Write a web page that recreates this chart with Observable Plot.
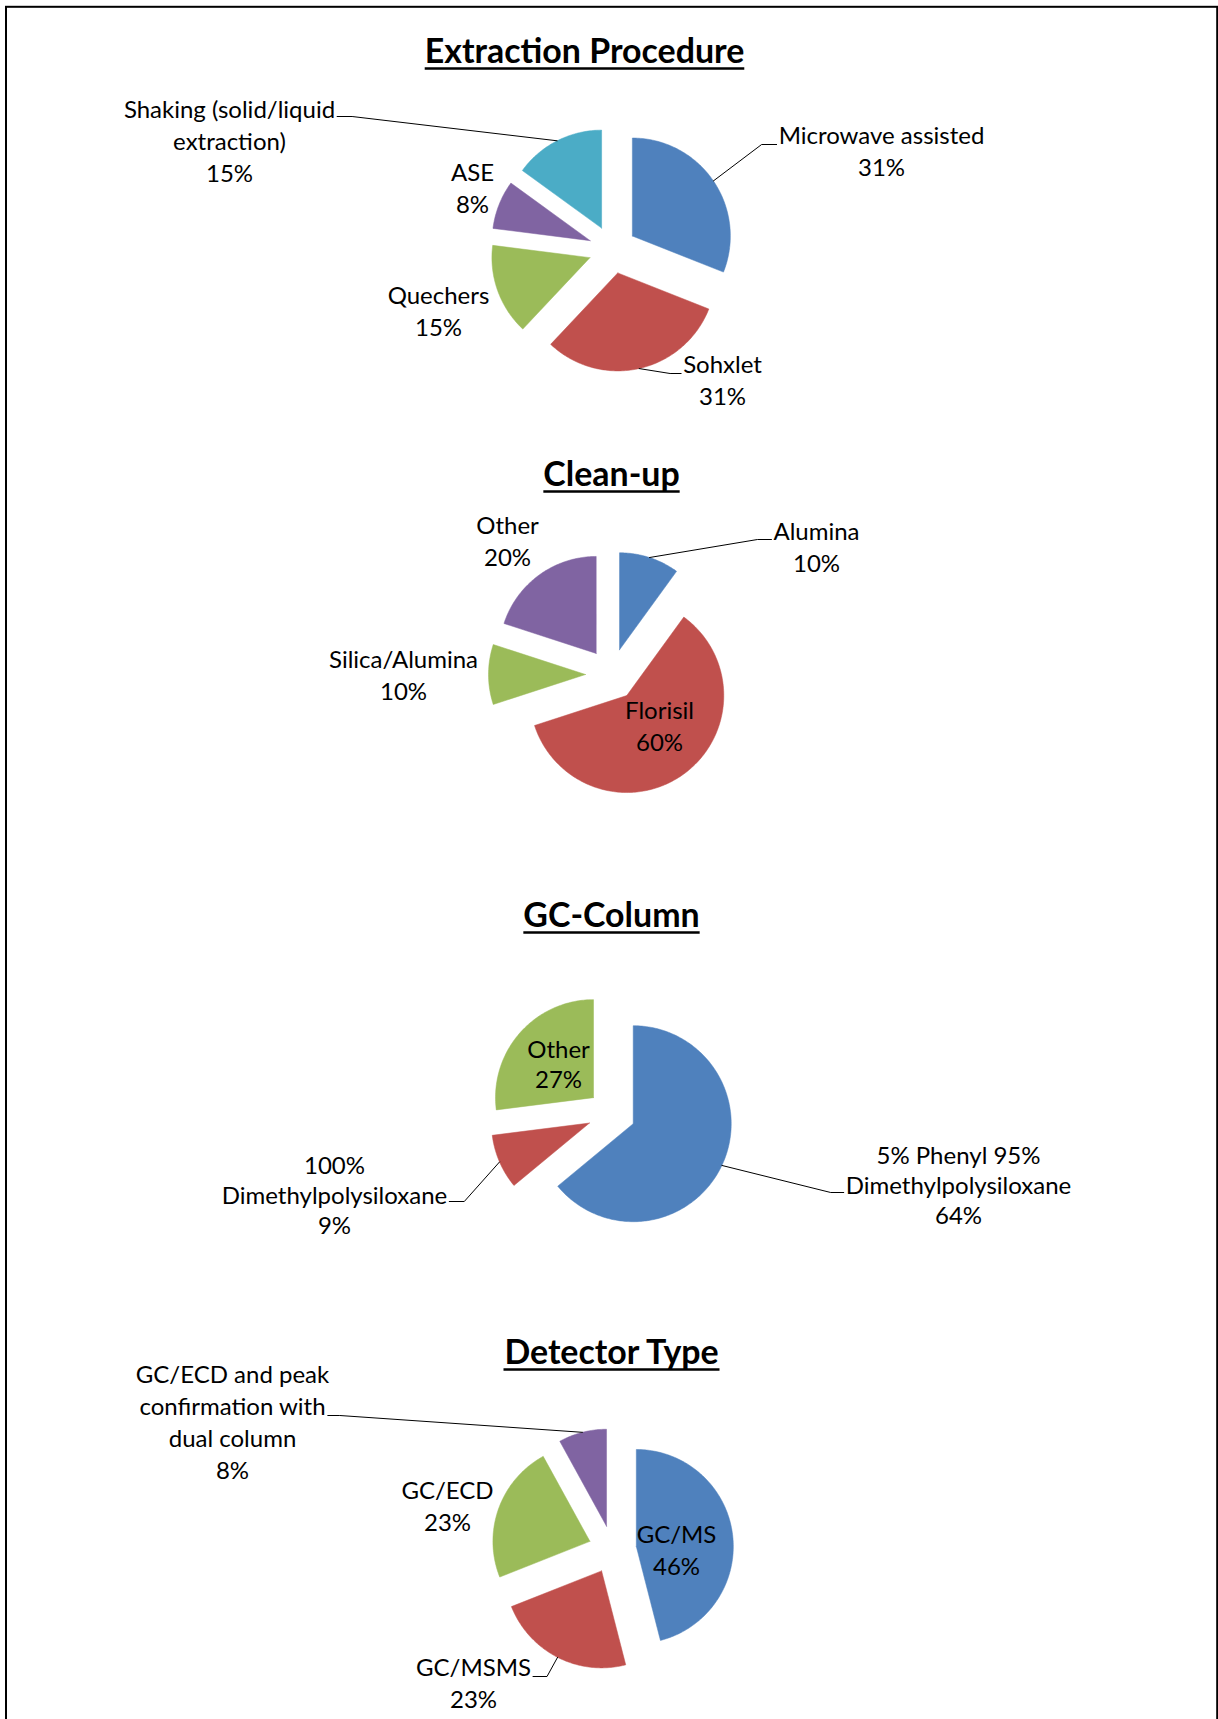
<!DOCTYPE html>
<html>
<head>
<meta charset="utf-8">
<script src="https://cdn.jsdelivr.net/npm/d3@7"></script>
<script src="https://cdn.jsdelivr.net/npm/@observablehq/plot@0.6"></script>
<style>
  html, body { margin: 0; padding: 0; background: #fff; }
  #chart { width: 1218px; height: 1719px; overflow: hidden; }
</style>
</head>
<body>
<div id="chart"></div>
<script>
// ---------------- data ----------------
const extractionTitle = "Extraction Procedure";
const extractionLabels = ["Microwave assisted", "Sohxlet", "Quechers", "ASE", "Shaking (solid/liquid\nextraction)"];
const extractionValues = [31, 31, 15, 8, 15];

const cleanupTitle = "Clean-up";
const cleanupLabels = ["Alumina", "Florisil", "Silica/Alumina", "Other"];
const cleanupValues = [10, 60, 10, 20];

const columnTitle = "GC-Column";
const columnLabels = ["5% Phenyl 95%\nDimethylpolysiloxane", "100%\nDimethylpolysiloxane", "Other"];
const columnValues = [64, 9, 27];

const detectorTitle = "Detector Type";
const detectorLabels = ["GC/MS", "GC/MSMS", "GC/ECD", "GC/ECD and peak\nconfirmation with\ndual column"];
const detectorValues = [46, 23, 23, 8];

// ---------------- styles / layout ----------------
const palette = ["#4F81BD", "#C0504D", "#9BBB59", "#8064A2", "#4BACC6"];
const FONT = "Lato, 'Open Sans', 'Liberation Sans', sans-serif";

const pies = [
  { title: extractionTitle, labels: extractionLabels, values: extractionValues,
    center: [612, 249], r: 98, explode: 24, titleAt: [584, 62], lineGap: 32,
    labelAt: [[269, -106], [110, 123], [-174, 54], [-140, -69], [-383, -132]],
    leaders: [{i: 0, line: 0, elbow: [146, -105], tail: 15}, {i: 1, line: 0, elbow: [56, 124], tail: 11}, {i: 4, line: 0, elbow: [-255, -133], tail: -15}] },
  { title: cleanupTitle, labels: cleanupLabels, values: cleanupValues,
    center: [611, 674], r: 97, explode: 26, titleAt: [611, 485], lineGap: 32,
    labelAt: [[205, -135], [48, 44], [-208, -7], [-104, -141]],
    leaders: [{i: 0, line: 0, elbow: [147, -135], tail: 14}] },
  { title: columnTitle, labels: columnLabels, values: columnValues,
    center: [611, 1113], r: 98, explode: 24, titleAt: [611, 926], lineGap: 30,
    labelAt: [[347, 50], [-277, 60], [-53, -56]],
    leaders: [{i: 0, line: 1, elbow: [228, 79], tail: 13}, {i: 1, line: 1, elbow: [-156, 88], tail: -15}] },
  { title: detectorTitle, labels: detectorLabels, values: detectorValues,
    center: [612, 1549], r: 97, explode: 24, titleAt: [611, 1363], lineGap: 32,
    labelAt: [[64, -7], [-139, 126], [-165, -51], [-380, -167]],
    leaders: [{i: 3, line: 1, elbow: [-270, -134], tail: -12}, {i: 1, line: 0, elbow: [-65, 127], tail: -14}] }
];

// ---------------- font fitting ----------------
const ctx = document.createElement("canvas").getContext("2d");
function measure(text, size, weight) {
  ctx.font = `${weight} ${size}px ${FONT}`;
  return ctx.measureText(text).width;
}
function fit(text, target, weight) { return 100 * target / measure(text, 100, weight); }
const labelSize = (fit("Microwave assisted", 212, 400) + fit("Dimethylpolysiloxane", 210, 400) + fit("confirmation with", 194, 400)) / 3;
const titleSize = (fit("Extraction Procedure", 326, 700) + fit("Detector Type", 216, 700) + fit("GC-Column", 173, 700)) / 3;

// ---------------- geometry from data ----------------
const slicePts = [], leaderPts = [], titleRows = [];
const labelRows = pies.map(() => []);
pies.forEach((p, pi) => {
  const total = d3.sum(p.values);
  const [cx, cy] = p.center;
  let acc = 0;
  const mids = [];
  const texts = [];
  p.values.forEach((v, i) => {
    const a0 = acc / total * 2 * Math.PI; acc += v;
    const a1 = acc / total * 2 * Math.PI;
    const mid = (a0 + a1) / 2;
    const vx = cx + p.explode * Math.sin(mid), vy = cy - p.explode * Math.cos(mid);
    mids.push([vx + p.r * Math.sin(mid), vy - p.r * Math.cos(mid)]);
    const id = `${pi}-${i}`, color = palette[i];
    const steps = Math.max(4, Math.ceil((a1 - a0) / (Math.PI / 180)));
    slicePts.push({id, color, x: vx, y: vy});
    for (let k = 0; k <= steps; k++) {
      const a = a0 + (a1 - a0) * k / steps;
      slicePts.push({id, color, x: vx + p.r * Math.sin(a), y: vy - p.r * Math.cos(a)});
    }
    slicePts.push({id, color, x: vx, y: vy});
    const text = `${p.labels[i]}\n${v}%`;
    const lines = text.split("\n");
    texts.push(lines);
    labelRows[pi].push({text, x: cx + p.labelAt[i][0], y: cy + p.labelAt[i][1] + (lines.length - 1) * p.lineGap});
  });
  p.leaders.forEach((l, li) => {
    const id = `L${pi}-${li}`;
    const lw = measure(texts[l.i][l.line], labelSize, 400);
    const lx = cx + p.labelAt[l.i][0];
    const ey = cy + l.elbow[1];
    // end of the leader sits at the edge of the label line it points to
    const endX = l.tail > 0 ? lx - lw / 2 - 2 : lx + lw / 2 + 2;
    const elbowX = endX - l.tail;
    leaderPts.push({id, x: mids[l.i][0], y: mids[l.i][1]});
    leaderPts.push({id, x: elbowX, y: ey});
    leaderPts.push({id, x: endX, y: ey});
  });
  const w = measure(p.title, titleSize, 700);
  titleRows.push({text: p.title, x: p.titleAt[0], y: p.titleAt[1], x1: p.titleAt[0] - w / 2, x2: p.titleAt[0] + w / 2});
});

// ---------------- plot ----------------
const chart = Plot.plot({
  width: 1218, height: 1719, margin: 0,
  x: {domain: [0, 1218], range: [0, 1218], axis: null},
  y: {domain: [0, 1719], range: [0, 1719], axis: null},
  color: {type: "identity"},
  style: {fontFamily: FONT, background: "#fff", color: "#000"},
  marks: [
    Plot.frame({stroke: "#000", strokeWidth: 2, insetLeft: 5.5, insetTop: 6.3, insetRight: 1.3, insetBottom: -20}),
    Plot.line(slicePts, {x: "x", y: "y", z: "id", fill: "color", stroke: "color", strokeWidth: 0.5, curve: "linear"}),
    Plot.line(leaderPts, {x: "x", y: "y", z: "id", stroke: "#000", strokeWidth: 1, curve: "linear"}),
    ...pies.map((p, pi) => Plot.text(labelRows[pi], {
      x: "x", y: "y", text: "text", textAnchor: "middle", lineAnchor: "bottom",
      lineHeight: p.lineGap / labelSize, fontSize: labelSize, fill: "#000"
    })),
    Plot.text(titleRows, {x: "x", y: "y", text: "text", textAnchor: "middle", lineAnchor: "bottom",
      fontSize: titleSize, fontWeight: "bold", fill: "#000"}),
    Plot.link(titleRows, {x1: "x1", x2: "x2", y1: d => d.y + 6, y2: d => d.y + 6, stroke: "#000", strokeWidth: 2.5})
  ]
});
document.getElementById("chart").appendChild(chart);
</script>
</body>
</html>
